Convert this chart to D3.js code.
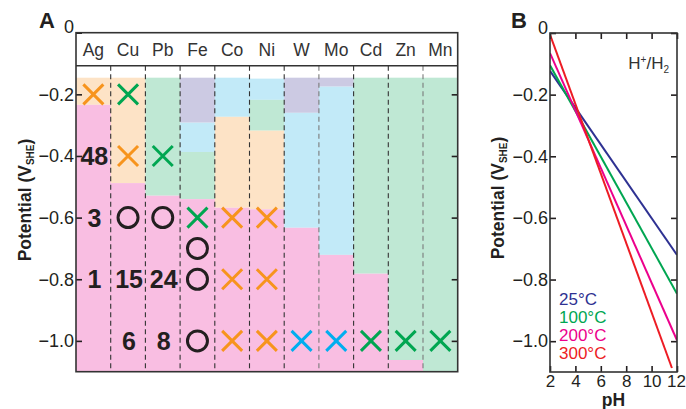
<!DOCTYPE html>
<html>
<head>
<meta charset="utf-8">
<script src="https://cdn.jsdelivr.net/npm/d3@7"></script>
<style>
  body { margin: 0; background: #fff; }
  svg text { font-family: "Liberation Sans", Arial, Helvetica, sans-serif; fill: #231f20; }
</style>
</head>
<body>
<svg id="svg"></svg>
<script>
var width = 686, height = 409;

// ---- panel A data ----
var elements = ["Ag", "Cu", "Pb", "Fe", "Co", "Ni", "W", "Mo", "Cd", "Zn", "Mn"];
var potTicks = [0, -0.2, -0.4, -0.6, -0.8, -1.0];

// [element, upper potential, lower potential, phase]
var zones = [
	["Ag", -0.146, -0.234, "peach"], ["Ag", -0.234, -1.1, "pink"],
	["Cu", -0.146, -0.488, "peach"], ["Cu", -0.488, -1.1, "pink"],
	["Pb", -0.146, -0.529, "green"], ["Pb", -0.529, -1.1, "pink"],
	["Fe", -0.146, -0.292, "lavender"], ["Fe", -0.292, -0.387, "blue"], ["Fe", -0.387, -0.540, "green"], ["Fe", -0.540, -1.1, "pink"],
	["Co", -0.146, -0.273, "blue"], ["Co", -0.273, -0.568, "peach"], ["Co", -0.568, -1.1, "pink"],
	["Ni", -0.149, -0.218, "blue"], ["Ni", -0.218, -0.318, "green"], ["Ni", -0.318, -0.573, "peach"], ["Ni", -0.573, -1.1, "pink"],
	["W", -0.146, -0.260, "lavender"], ["W", -0.260, -0.633, "blue"], ["W", -0.633, -1.1, "pink"],
	["Mo", -0.146, -0.175, "lavender"], ["Mo", -0.175, -0.721, "blue"], ["Mo", -0.721, -1.1, "pink"],
	["Cd", -0.146, -0.782, "green"], ["Cd", -0.782, -1.1, "pink"],
	["Zn", -0.146, -1.062, "green"], ["Zn", -1.062, -1.1, "pink"],
	["Mn", -0.146, -1.1, "green"]
];

// [element, potential, marker, colour key]
var markers = [
	["Ag", -0.2, "x", "orange"], ["Cu", -0.2, "x", "green"],
	["Cu", -0.4, "x", "orange"], ["Pb", -0.4, "x", "green"],
	["Cu", -0.6, "o", "black"], ["Pb", -0.6, "o", "black"], ["Fe", -0.6, "x", "green"],
	["Co", -0.6, "x", "orange"], ["Ni", -0.6, "x", "orange"],
	["Fe", -0.7, "o", "black"],
	["Fe", -0.8, "o", "black"], ["Co", -0.8, "x", "orange"], ["Ni", -0.8, "x", "orange"],
	["Fe", -1.0, "o", "black"], ["Co", -1.0, "x", "orange"], ["Ni", -1.0, "x", "orange"],
	["W", -1.0, "x", "blue"], ["Mo", -1.0, "x", "blue"],
	["Cd", -1.0, "x", "green"], ["Zn", -1.0, "x", "green"], ["Mn", -1.0, "x", "green"]
];

// [element, potential, count]
var counts = [
	["Ag", -0.4, "48"], ["Ag", -0.6, "3"], ["Ag", -0.8, "1"],
	["Cu", -0.8, "15"], ["Cu", -1.0, "6"],
	["Pb", -0.8, "24"], ["Pb", -1.0, "8"]
];

// ---- panel B data ----
var temps = ["25°C", "100°C", "200°C", "300°C"];
var phStart = [2, 2, 2, 2];
var phEnd = [12, 12, 12, 11.6];
var eStart = [-0.123, -0.105, -0.065, -0.005];
var eEnd = [-0.720, -0.846, -0.997, -1.087];
var phTicks = [2, 4, 6, 8, 10, 12];

var phaseColor = d3.scaleOrdinal()
	.domain(["pink", "peach", "green", "blue", "lavender"])
	.range(["#f9bee2", "#fde3c6", "#bfe8d4", "#c2eaf8", "#cccae3"]);
var markColor = d3.scaleOrdinal()
	.domain(["orange", "green", "blue", "black"])
	.range(["#f7941d", "#00a651", "#00aeef", "#231f20"]);
var lineColor = d3.scaleOrdinal()
	.domain(temps)
	.range(["#2e3192", "#00a651", "#ec008c", "#ed1c24"]);

var tickFmt = function(d) { return d === 0 ? "0" : d3.format(".1f")(d); };

var svg = d3.select("#svg")
	.attr("width", width)
	.attr("height", height);

// ================= panel A =================
var xA = d3.scaleBand().domain(elements).range([76, 457.7]);
var yA = d3.scaleLinear().domain([0, -1.1]).range([32.7, 371.7]);
var headerBottom = 65.7;

var gA = svg.append("g");

gA.selectAll(".zone")
	.data(zones)
	.enter().append("rect")
	.attr("class", "zone")
	.attr("x", function(d) { return xA(d[0]); })
	.attr("width", xA.bandwidth() + 0.3)
	.attr("y", function(d) { return yA(d[1]); })
	.attr("height", function(d) { return yA(d[2]) - yA(d[1]); })
	.attr("fill", function(d) { return phaseColor(d[3]); });

// dashed column dividers
gA.selectAll(".div")
	.data(elements.slice(1))
	.enter().append("line")
	.attr("x1", function(d) { return xA(d); })
	.attr("x2", function(d) { return xA(d); })
	.attr("y1", headerBottom)
	.attr("y2", yA(-1.1))
	.attr("stroke", function(d) { return (d === "Mo" || d === "Mn") ? "#7a7a7a" : "#333"; })
	.attr("stroke-width", 1.1)
	.attr("stroke-dasharray", "5,3.5");

// header row
gA.selectAll(".head")
	.data(elements)
	.enter().append("text")
	.attr("x", function(d) { return xA(d) + xA.bandwidth() / 2; })
	.attr("y", 56)
	.attr("text-anchor", "middle")
	.attr("font-size", "17.5px")
	.style("fill", "#333")
	.text(function(d) { return d; });

gA.append("line")
	.attr("x1", 76).attr("x2", 457.7)
	.attr("y1", headerBottom).attr("y2", headerBottom)
	.attr("stroke", "#333").attr("stroke-width", 1.6);

// markers
var xs = gA.selectAll(".mk")
	.data(markers)
	.enter().append("g")
	.attr("transform", function(d) { return "translate(" + (xA(d[0]) + xA.bandwidth() / 2) + "," + yA(d[1]) + ")"; });

xs.filter(function(d) { return d[2] === "x"; })
	.append("path")
	.attr("d", "M-10,-10L10,10M-10,10L10,-10")
	.attr("fill", "none")
	.attr("stroke", function(d) { return markColor(d[3]); })
	.attr("stroke-width", 3);

xs.filter(function(d) { return d[2] === "o"; })
	.append("circle")
	.attr("r", 10)
	.attr("fill", "none")
	.attr("stroke", function(d) { return markColor(d[3]); })
	.attr("stroke-width", 3);

gA.selectAll(".cnt")
	.data(counts)
	.enter().append("text")
	.attr("x", function(d) { return xA(d[0]) + xA.bandwidth() / 2 + 1; })
	.attr("y", function(d) { return yA(d[1]); })
	.attr("dy", "0.36em")
	.attr("text-anchor", "middle")
	.attr("font-size", "25px")
	.attr("font-weight", "bold")
	.style("font-family", "'Liberation Sans Narrow', 'Arial Narrow', 'Liberation Sans', sans-serif")
	.text(function(d) { return d[2]; });

// axes
gA.append("g")
	.attr("transform", "translate(76,0)")
	.call(d3.axisLeft(yA).tickValues(potTicks).tickFormat(tickFmt)
		.tickSizeInner(-6).tickSizeOuter(0).tickPadding(2));
gA.append("g")
	.attr("transform", "translate(457.7,0)")
	.call(d3.axisRight(yA).tickValues(potTicks.slice(1)).tickFormat("")
		.tickSizeInner(-6).tickSizeOuter(0));

gA.append("rect")
	.attr("x", 76).attr("y", 32.7)
	.attr("width", 457.7 - 76).attr("height", 371.7 - 32.7)
	.attr("fill", "none").attr("stroke", "#333").attr("stroke-width", 1.6);

gA.append("text")
	.attr("x", 39).attr("y", 28)
	.attr("font-size", "22px").attr("font-weight", "bold")
	.text("A");

function yTitle(g, x, y) {
	var t = g.append("text")
		.attr("transform", "translate(" + x + "," + y + ") rotate(-90)")
		.attr("text-anchor", "middle")
		.attr("font-size", "17.5px")
		.attr("font-weight", "bold");
	t.append("tspan").text("Potential (V");
	t.append("tspan").attr("font-size", "10px").attr("dy", "3").text("SHE");
	t.append("tspan").attr("dy", "-3").text(")");
}
yTitle(gA, 31, 200);

// ================= panel B =================
var xB = d3.scaleLinear().domain([2, 12]).range([550, 677]);
var yB = d3.scaleLinear().domain([0, -1.1]).range([33, 372]);

var gB = svg.append("g");

gB.append("clipPath").attr("id", "clipB")
	.append("rect")
	.attr("x", 550).attr("y", 33).attr("width", 127).attr("height", 339);

var line = d3.line()
	.x(function(d) { return xB(d[0]); })
	.y(function(d) { return yB(d[1]); });

gB.selectAll(".ln")
	.data(temps)
	.enter().append("path")
	.attr("clip-path", "url(#clipB)")
	.attr("d", function(d, i) { return line([[phStart[i], eStart[i]], [phEnd[i], eEnd[i]]]); })
	.attr("fill", "none")
	.attr("stroke", function(d) { return lineColor(d); })
	.attr("stroke-width", 2);

gB.append("g")
	.attr("transform", "translate(550,0)")
	.call(d3.axisLeft(yB).tickValues(potTicks).tickFormat(tickFmt)
		.tickSizeInner(-6).tickSizeOuter(0).tickPadding(2));
gB.append("g")
	.attr("transform", "translate(677,0)")
	.call(d3.axisRight(yB).tickValues(potTicks).tickFormat("")
		.tickSizeInner(-6).tickSizeOuter(0));
var xAxB = gB.append("g")
	.attr("transform", "translate(0,372)")
	.call(d3.axisBottom(xB).tickValues(phTicks)
		.tickSizeInner(-6).tickSizeOuter(0).tickPadding(3));
gB.append("g")
	.attr("transform", "translate(0,33)")
	.call(d3.axisTop(xB).tickValues(phTicks).tickFormat("")
		.tickSizeInner(-6).tickSizeOuter(0));

gB.append("rect")
	.attr("x", 550).attr("y", 33)
	.attr("width", 127).attr("height", 339)
	.attr("fill", "none").attr("stroke", "#333").attr("stroke-width", 1.6);

// legend
gB.selectAll(".leg")
	.data(temps)
	.enter().append("text")
	.attr("x", 559)
	.attr("y", function(d, i) { return 305 + i * 18; })
	.attr("font-size", "17px")
	.style("fill", function(d) { return lineColor(d); })
	.text(function(d) { return d; });

var hh = gB.append("text")
	.attr("x", 669).attr("y", 69)
	.attr("text-anchor", "end")
	.attr("font-size", "17px")
	.style("fill", "#333");
hh.append("tspan").text("H");
hh.append("tspan").attr("font-size", "10px").attr("dy", "-6").text("+");
hh.append("tspan").attr("dy", "6").text("/H");
hh.append("tspan").attr("font-size", "10px").attr("dy", "4").text("2");

gB.append("text")
	.attr("x", 613.5).attr("y", 406)
	.attr("text-anchor", "middle")
	.attr("font-size", "17.5px").attr("font-weight", "bold")
	.text("pH");

gB.append("text")
	.attr("x", 511).attr("y", 28)
	.attr("font-size", "22px").attr("font-weight", "bold")
	.text("B");

yTitle(gB, 504, 198);

// shared axis styling
svg.selectAll(".tick line").attr("stroke", "#231f20").attr("stroke-width", 1.6);
svg.selectAll(".domain").remove();
svg.selectAll(".tick text")
	.attr("font-size", "18px")
	.style("font-family", "'Liberation Sans', Arial, sans-serif")
	.style("fill", "#231f20");
xAxB.selectAll(".tick text").attr("font-size", "17px");
xAxB.selectAll(".tick text")
	.filter(function(d) { return d === 12; })
	.attr("dx", "-1");
svg.selectAll(".tick text")
	.filter(function(d) { return d === 0; })
	.attr("dy", "0.0em");
</script>
</body>
</html>
